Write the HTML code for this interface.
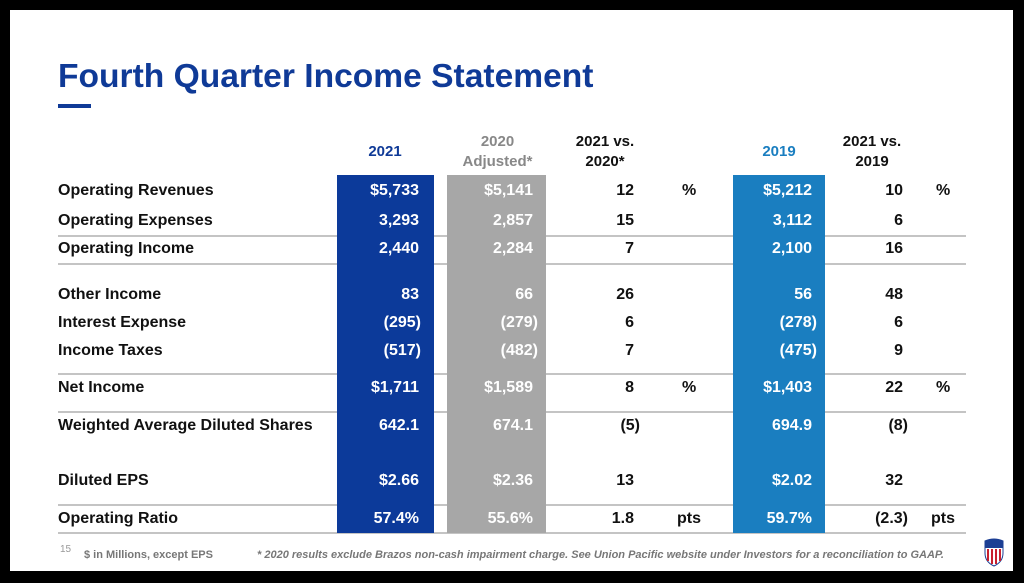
<!DOCTYPE html>
<html><head><meta charset="utf-8"><style>
*{margin:0;padding:0;box-sizing:border-box}
body{width:1024px;height:583px;background:#000;position:relative;overflow:hidden;font-family:"Liberation Sans",Arial,sans-serif;font-weight:bold}
#slide{position:absolute;left:10px;top:10px;width:1003px;height:561px;background:#fff}
.a{position:absolute;white-space:nowrap}
.t{font-size:33.6px;color:#0f3a97;left:58px;top:58px}
.bar{position:absolute;top:175px;height:358px}
.ln{position:absolute;left:58px;width:908px;height:2px;background:#c4c4c4}
.h{font-size:15px;text-align:center;line-height:20px}
.lab{font-size:16px;color:#111;left:58px}
.v{font-size:16px;text-align:right}
.w{color:#fff}
.k{color:#111}
</style></head><body>
<div id="slide"></div>
<div class="a t">Fourth Quarter Income Statement</div>
<div class="a" style="left:58px;top:104px;width:33px;height:4px;background:#0f3a97"></div>

<div class="ln" style="top:235px"></div>
<div class="ln" style="top:263px"></div>
<div class="ln" style="top:373px"></div>
<div class="ln" style="top:411px"></div>
<div class="ln" style="top:504px"></div>
<div class="ln" style="top:532px"></div>

<div class="bar" style="left:337px;width:97px;background:#0c3a9a"></div>
<div class="bar" style="left:447px;width:99px;background:#a7a7a7"></div>
<div class="bar" style="left:733px;width:92px;background:#1a7ec0"></div>

<div class="a h" style="left:335px;width:100px;top:142px;color:#0f3a97">2021</div>
<div class="a h" style="left:440px;width:115px;top:132px;color:#888">2020<br>Adjusted*</div>
<div class="a h" style="left:560px;width:90px;top:132px;color:#111">2021 vs.<br>2020*</div>
<div class="a h" style="left:730px;width:98px;top:142px;color:#1a7ec0">2019</div>
<div class="a h" style="left:827px;width:90px;top:132px;color:#111">2021 vs.<br>2019</div>

<div class="a lab" style="top:182px">Operating Revenues</div>
<div class="a lab" style="top:212px">Operating Expenses</div>
<div class="a lab" style="top:240px">Operating Income</div>
<div class="a lab" style="top:286px">Other Income</div>
<div class="a lab" style="top:314px">Interest Expense</div>
<div class="a lab" style="top:342px">Income Taxes</div>
<div class="a lab" style="top:379px">Net Income</div>
<div class="a lab" style="top:417px">Weighted Average Diluted Shares</div>
<div class="a lab" style="top:472px">Diluted EPS</div>
<div class="a lab" style="top:510px">Operating Ratio</div>

<div class="a v w" style="left:337px;width:82px;top:182px">$5,733</div>
<div class="a v w" style="left:337px;width:82px;top:212px">3,293</div>
<div class="a v w" style="left:337px;width:82px;top:240px">2,440</div>
<div class="a v w" style="left:337px;width:82px;top:286px">83</div>
<div class="a v w" style="left:337px;width:84px;top:314px">(295)</div>
<div class="a v w" style="left:337px;width:84px;top:342px">(517)</div>
<div class="a v w" style="left:337px;width:82px;top:379px">$1,711</div>
<div class="a v w" style="left:337px;width:82px;top:417px">642.1</div>
<div class="a v w" style="left:337px;width:82px;top:472px">$2.66</div>
<div class="a v w" style="left:337px;width:82px;top:510px">57.4%</div>

<div class="a v w" style="left:447px;width:86px;top:182px">$5,141</div>
<div class="a v w" style="left:447px;width:86px;top:212px">2,857</div>
<div class="a v w" style="left:447px;width:86px;top:240px">2,284</div>
<div class="a v w" style="left:447px;width:86px;top:286px">66</div>
<div class="a v w" style="left:447px;width:91px;top:314px">(279)</div>
<div class="a v w" style="left:447px;width:91px;top:342px">(482)</div>
<div class="a v w" style="left:447px;width:86px;top:379px">$1,589</div>
<div class="a v w" style="left:447px;width:86px;top:417px">674.1</div>
<div class="a v w" style="left:447px;width:86px;top:472px">$2.36</div>
<div class="a v w" style="left:447px;width:86px;top:510px">55.6%</div>

<div class="a v k" style="left:560px;width:74px;top:182px">12</div>
<div class="a v k" style="left:560px;width:74px;top:212px">15</div>
<div class="a v k" style="left:560px;width:74px;top:240px">7</div>
<div class="a v k" style="left:560px;width:74px;top:286px">26</div>
<div class="a v k" style="left:560px;width:74px;top:314px">6</div>
<div class="a v k" style="left:560px;width:74px;top:342px">7</div>
<div class="a v k" style="left:560px;width:74px;top:379px">8</div>
<div class="a v k" style="left:560px;width:80px;top:417px">(5)</div>
<div class="a v k" style="left:560px;width:74px;top:472px">13</div>
<div class="a v k" style="left:560px;width:74px;top:510px">1.8</div>
<div class="a k" style="left:682px;top:182px;font-size:16px">%</div>
<div class="a k" style="left:682px;top:379px;font-size:16px">%</div>
<div class="a k" style="left:677px;top:510px;font-size:16px">pts</div>

<div class="a v w" style="left:733px;width:79px;top:182px">$5,212</div>
<div class="a v w" style="left:733px;width:79px;top:212px">3,112</div>
<div class="a v w" style="left:733px;width:79px;top:240px">2,100</div>
<div class="a v w" style="left:733px;width:79px;top:286px">56</div>
<div class="a v w" style="left:733px;width:84px;top:314px">(278)</div>
<div class="a v w" style="left:733px;width:84px;top:342px">(475)</div>
<div class="a v w" style="left:733px;width:79px;top:379px">$1,403</div>
<div class="a v w" style="left:733px;width:79px;top:417px">694.9</div>
<div class="a v w" style="left:733px;width:79px;top:472px">$2.02</div>
<div class="a v w" style="left:733px;width:79px;top:510px">59.7%</div>

<div class="a v k" style="left:840px;width:63px;top:182px">10</div>
<div class="a v k" style="left:840px;width:63px;top:212px">6</div>
<div class="a v k" style="left:840px;width:63px;top:240px">16</div>
<div class="a v k" style="left:840px;width:63px;top:286px">48</div>
<div class="a v k" style="left:840px;width:63px;top:314px">6</div>
<div class="a v k" style="left:840px;width:63px;top:342px">9</div>
<div class="a v k" style="left:840px;width:63px;top:379px">22</div>
<div class="a v k" style="left:840px;width:68px;top:417px">(8)</div>
<div class="a v k" style="left:840px;width:63px;top:472px">32</div>
<div class="a v k" style="left:840px;width:68px;top:510px">(2.3)</div>
<div class="a k" style="left:936px;top:182px;font-size:16px">%</div>
<div class="a k" style="left:936px;top:379px;font-size:16px">%</div>
<div class="a k" style="left:931px;top:510px;font-size:16px">pts</div>

<div class="a" style="left:60px;top:544px;font-size:10px;color:#999;font-weight:normal">15</div>
<div class="a" style="left:84px;top:549px;font-size:11px;color:#777">$ in Millions, except EPS</div>
<div class="a" style="left:257px;top:549px;font-size:11px;color:#777;font-style:italic">* 2020 results exclude Brazos non-cash impairment charge. See Union Pacific website under Investors for a reconciliation to GAAP.</div>
<svg class="a" style="left:983px;top:537px" width="22" height="30" viewBox="0 0 22 30">
<path d="M2 4 Q11 0 20 4 L20 16 Q20 25 11 29 Q2 25 2 16Z" fill="#fff" stroke="#1c3f94" stroke-width="1"/>
<path d="M2 4 Q11 0 20 4 L20 11 L2 11Z" fill="#1c3f94"/>
<g fill="#c8202f"><rect x="4" y="12" width="2" height="12"/><rect x="8" y="12" width="2" height="15"/><rect x="12" y="12" width="2" height="15"/><rect x="16" y="12" width="2" height="12"/></g>
</svg>
</body></html>
